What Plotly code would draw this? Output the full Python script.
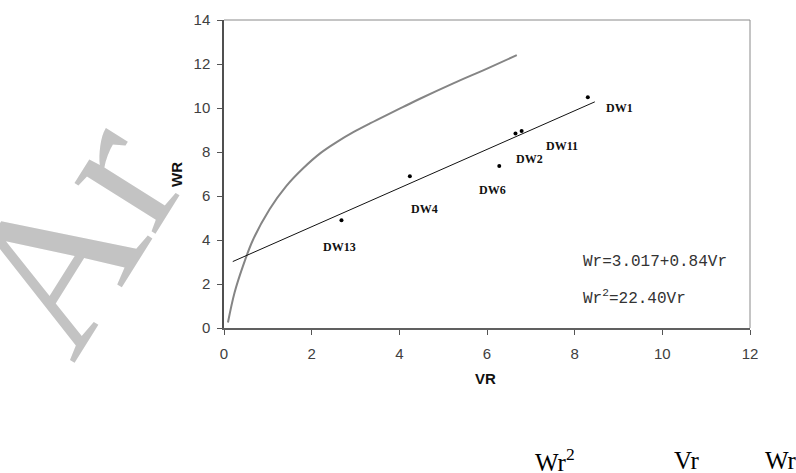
import plotly.graph_objects as go

# ---- data ----
well_names = ["DW13", "DW4", "DW6", "DW2", "DW11", "DW1"]
well_vr = [2.68, 4.24, 6.28, 6.65, 6.79, 8.30]
well_wr = [4.90, 6.90, 7.36, 8.84, 8.96, 10.49]

fit_vr = [0.20, 8.46]
fit_wr = [3.02, 10.28]

curve_vr = [0.09, 0.24, 0.43, 0.66, 1.04, 1.42, 1.80, 2.20, 2.57, 2.95, 3.33,
            3.71, 4.09, 4.47, 5.23, 5.99, 6.68]
curve_wr = [0.25, 1.60, 2.80, 4.00, 5.40, 6.45, 7.25, 7.95, 8.45, 8.90, 9.30,
            9.68, 10.05, 10.42, 11.12, 11.78, 12.40]

x_ticks = [0, 2, 4, 6, 8, 10, 12]
y_ticks = [0, 2, 4, 6, 8, 10, 12, 14]

eq_linear = "Wr=3.017+0.84Vr"
eq_power = "Wr<sup>2</sup>=22.40Vr"
bottom_words = ["Wr<sup>2</sup>", "Vr", "Wr"]

# label offsets in pixels (dx right, dy up)
label_dx = [-2, 15, -7, 14, 40, 32]
label_dy = [-27, -33, -24, -25, -15, -11]

W, H = 796, 473
L, R, T, B = 224, 46, 20, 145
PW, PH = W - L - R, H - T - B


def px(x):
    return (x - L) / PW


def py(y):
    return (H - B - y) / PH


fig = go.Figure()

fig.add_trace(go.Scatter(x=curve_vr, y=curve_wr, mode="lines",
                         line=dict(color="#858585", width=2, shape="spline"),
                         showlegend=False, hoverinfo="skip"))
fig.add_trace(go.Scatter(x=fit_vr, y=fit_wr, mode="lines",
                         line=dict(color="#111111", width=1),
                         showlegend=False, hoverinfo="skip"))
fig.add_trace(go.Scatter(x=well_vr, y=well_wr, mode="markers",
                         marker=dict(color="#000000", size=4),
                         showlegend=False))

ann = []
# watermark first so everything else draws over it
ann.append(dict(x=px(72), y=py(235), xref="paper", yref="paper", text="Ar",
                showarrow=False, textangle=-58, xanchor="center", yanchor="middle",
                font=dict(family="Liberation Serif", size=208, color="#c3c3c3")))

for name, xv, yv, dx, dy in zip(well_names, well_vr, well_wr, label_dx, label_dy):
    ann.append(dict(x=xv, y=yv, xref="x", yref="y", text="<b>%s</b>" % name,
                    showarrow=False, xshift=dx, yshift=dy,
                    xanchor="center", yanchor="middle",
                    font=dict(family="Liberation Serif", size=12, color="#111111")))

mono = dict(family="Liberation Mono", size=16, color="#333333")
ann.append(dict(x=px(581), y=py(262), xref="paper", yref="paper", text=eq_linear,
                showarrow=False, xanchor="left", yanchor="middle", font=mono))
ann.append(dict(x=px(581), y=py(297), xref="paper", yref="paper", text=eq_power,
                showarrow=False, xanchor="left", yanchor="middle", font=mono))

# axis titles
ann.append(dict(x=px(485), y=py(378), xref="paper", yref="paper", text="<b>VR</b>",
                showarrow=False, xanchor="center", yanchor="middle",
                font=dict(family="Liberation Sans", size=15, color="#111111")))
ann.append(dict(x=px(176), y=py(175), xref="paper", yref="paper", text="<b>WR</b>",
                showarrow=False, textangle=-90, xanchor="center", yanchor="middle",
                font=dict(family="Liberation Sans", size=15, color="#111111")))

# bottom caption words
for word, xl in zip(bottom_words, [533, 672, 763]):
    ann.append(dict(x=px(xl), y=py(460), xref="paper", yref="paper", text=word,
                    showarrow=False, xanchor="left", yanchor="middle",
                    font=dict(family="Liberation Serif", size=25, color="#000000")))

axis_common = dict(showgrid=False, zeroline=False, showline=True,
                   ticks="outside", ticklen=5, tickcolor="#555555",
                   tickfont=dict(family="Liberation Sans", size=15, color="#404040"))

fig.update_layout(
    width=W, height=H,
    margin=dict(l=L, r=R, t=T, b=B, autoexpand=False),
    paper_bgcolor="white", plot_bgcolor="white",
    xaxis=dict(range=[0, 12], tickvals=x_ticks, linecolor="#606060", linewidth=2,
               ticklabelstandoff=6, **axis_common),
    yaxis=dict(range=[0, 14], tickvals=y_ticks, linecolor="#505050", linewidth=1.5,
               ticklabelstandoff=4, **axis_common),
    shapes=[dict(type="line", xref="paper", yref="paper", x0=0, x1=1, y0=1, y1=1,
                 line=dict(color="#8a8a8a", width=1)),
            dict(type="line", xref="paper", yref="paper", x0=1, x1=1, y0=0, y1=1,
                 line=dict(color="#8a8a8a", width=1))],
    annotations=ann,
)

fig.write_html("out.html", config={"displayModeBar": False},
               post_script="document.body.style.margin='0px';document.body.style.overflow='hidden';")
